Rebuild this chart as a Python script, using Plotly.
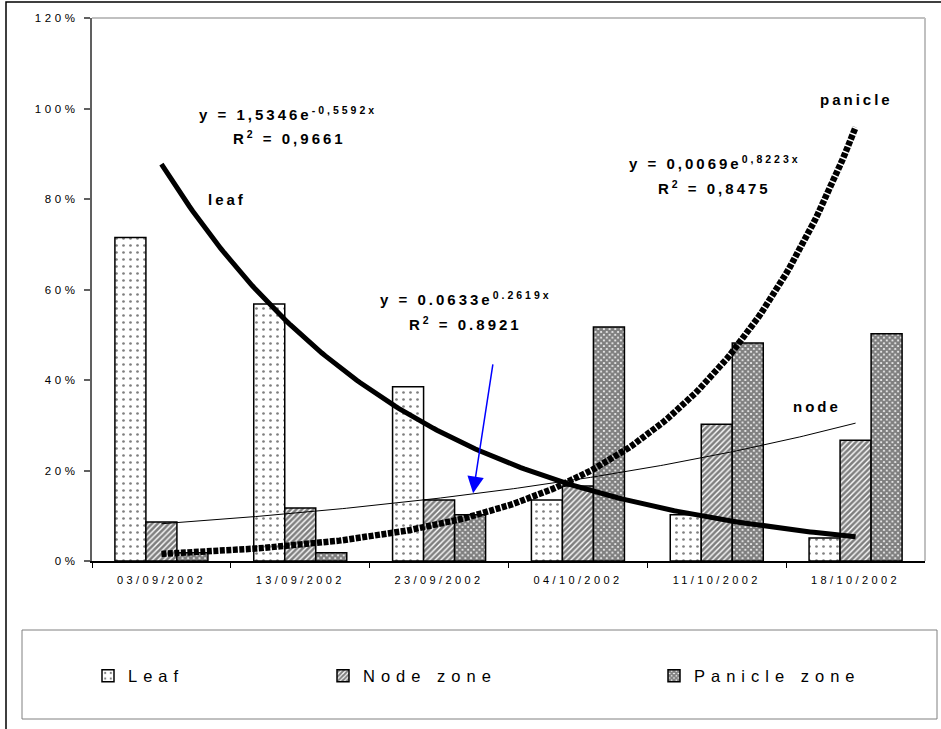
import numpy as np
import plotly.graph_objects as go

# Sampling dates and share of each plant part (fraction of total)
dates = ["03/09/2002", "13/09/2002", "23/09/2002", "04/10/2002", "11/10/2002", "18/10/2002"]
leaf = [0.715, 0.568, 0.385, 0.135, 0.102, 0.051]
node = [0.086, 0.117, 0.135, 0.166, 0.302, 0.267]
panicle = [0.018, 0.018, 0.102, 0.517, 0.482, 0.502]

# Exponential trend lines y = a * exp(b * x), x = 1..6
leaf_fit = (1.5346, -0.5592)
node_fit = (0.0633, 0.2619)
panicle_fit = (0.0069, 0.8223)

y_ticks = [0, 0.2, 0.4, 0.6, 0.8, 1.0, 1.2]

FONT = "Liberation Sans, Arial, sans-serif"
W, H = 941, 729
ML, MR, MT, MB = 92, 16, 18, 168
PW, PH = W - ML - MR, H - MT - MB


def px(xp):
    return (xp - ML) / PW


def py(yp):
    return (H - MB - yp) / PH


def spaced(s, ls):
    return f'<span style="letter-spacing:{ls}px">{s}</span>'


xpos = list(range(1, len(dates) + 1))
xs = np.linspace(1, len(dates), 200)

fig = go.Figure()

bar_specs = [
    ("Leaf", leaf, dict(shape=".", size=7, solidity=0.12), "legend"),
    ("Node zone", node, dict(shape="/", size=4, solidity=0.65), "legend2"),
    ("Panicle zone", panicle, dict(shape="x", size=4, solidity=0.8), "legend3"),
]
for name, vals, pat, lg in bar_specs:
    fig.add_trace(go.Bar(
        x=xpos, y=vals, name=spaced(name, 6),
        marker=dict(color="white", line=dict(color="black", width=1.5),
                    pattern=dict(fgcolor="black", bgcolor="white", fillmode="overlay", **pat)),
        legend=lg,
    ))


def curve(fit):
    a, b = fit
    return a * np.exp(b * xs)


fig.add_trace(go.Scatter(x=xs, y=curve(leaf_fit), mode="lines",
                         line=dict(color="black", width=5), showlegend=False))
fig.add_trace(go.Scatter(x=xs, y=curve(node_fit), mode="lines",
                         line=dict(color="black", width=1), showlegend=False))
fig.add_trace(go.Scatter(x=xs, y=curve(panicle_fit), mode="lines",
                         line=dict(color="black", width=6.5, dash="5px,1.5px"), showlegend=False))

bold = dict(family=FONT, size=15, color="black")


def note(text, xp, yp, **kw):
    fig.add_annotation(text=spaced(f"<b>{text}</b>", 3), x=px(xp), y=py(yp),
                       xref="paper", yref="paper", xanchor="center", yanchor="middle",
                       showarrow=False, font=bold, **kw)


note("y = 1,5346e<sup>-0,5592x</sup>", 288, 113)
note("R<sup>2</sup> = 0,9661", 289, 137)
note("leaf", 227, 199)
note("y = 0,0069e<sup>0,8223x</sup>", 715, 162)
note("R<sup>2</sup> = 0,8475", 714, 187)
note("panicle", 856, 100)
note("y = 0.0633e<sup>0.2619x</sup>", 466, 298)
note("R<sup>2</sup> = 0.8921", 465, 323)
note("node", 817, 406)

# Blue pointer to the node trend line
fig.add_annotation(x=3.245, y=0.150, ax=3.389, ay=0.438, xref="x", yref="y",
                   axref="x", ayref="y", text="", showarrow=True,
                   arrowcolor="#0000ff", arrowwidth=1.5, arrowhead=2, arrowsize=2.2)

shapes = [
    # outer chart frame
    dict(type="rect", xref="paper", yref="paper", x0=px(6), x1=px(960), y0=py(750), y1=py(2),
         line=dict(color="black", width=1.5), fillcolor="rgba(0,0,0,0)", layer="below"),
    # plot area border (top and right)
    dict(type="line", xref="paper", yref="paper", x0=0, x1=1, y0=1, y1=1,
         line=dict(color="#c0c0c0", width=2)),
    dict(type="line", xref="paper", yref="paper", x0=1, x1=1, y0=0, y1=1,
         line=dict(color="#c0c0c0", width=2)),
    # legend box
    dict(type="rect", xref="paper", yref="paper", x0=px(22), x1=px(937), y0=py(719), y1=py(630),
         line=dict(color="#808080", width=1), fillcolor="white", layer="below"),
]

legend_common = dict(orientation="h", yanchor="middle", bgcolor="rgba(0,0,0,0)",
                     font=dict(family=FONT, size=16.5, color="black"), itemwidth=30)

fig.update_layout(
    width=W, height=H,
    margin=dict(l=ML, r=MR, t=MT, b=MB),
    paper_bgcolor="white", plot_bgcolor="white",
    barmode="group", bargap=0.33, bargroupgap=0,
    font=dict(family=FONT, color="black"),
    shapes=shapes,
    legend=dict(x=px(88), y=py(676), **legend_common),
    legend2=dict(x=px(323), y=py(676), **legend_common),
    legend3=dict(x=px(654), y=py(676), **legend_common),
    xaxis=dict(range=[0.5, len(dates) + 0.5], tickmode="array", tickvals=xpos,
               ticktext=[spaced(d, 3.4) for d in dates], ticks="",
               ticklabelstandoff=8,
               showline=True, linecolor="black", linewidth=1.5, showgrid=False, zeroline=False,
               tickfont=dict(family=FONT, size=11, color="black"),
               minor=dict(tickmode="array", tickvals=[i + 0.5 for i in range(len(dates))],
                          ticks="outside", ticklen=5, tickcolor="black", tickwidth=1)),
    yaxis=dict(range=[0, 1.2], tickmode="array", tickvals=y_ticks,
               ticktext=[spaced(f"{round(v * 100)}%", 3.6) for v in y_ticks],
               ticks="outside", ticklen=6, tickcolor="#606060", tickwidth=1.5,
               ticklabelstandoff=3,
               showline=True, linecolor="#606060", linewidth=2, showgrid=False, zeroline=False,
               tickfont=dict(family=FONT, size=11.5, color="black")),
)

fig.write_html("out.html")
